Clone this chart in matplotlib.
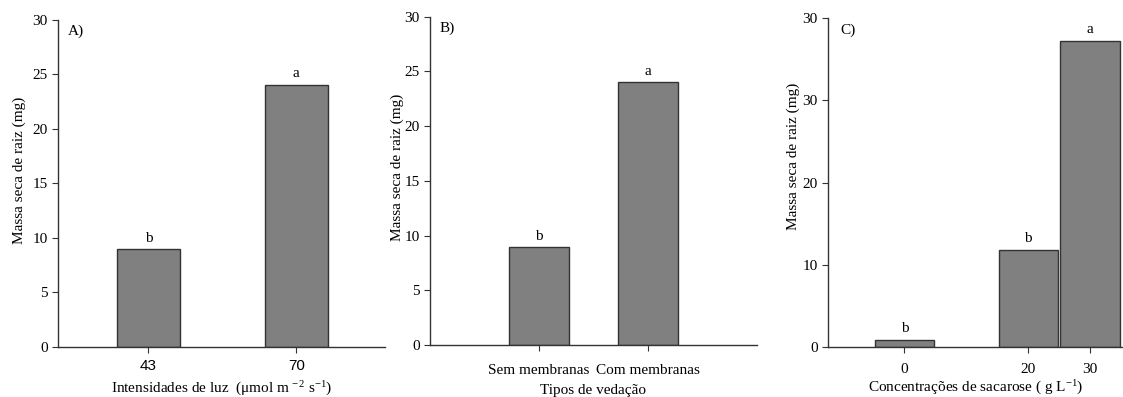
import matplotlib
matplotlib.use('Agg')
import matplotlib.pyplot as plt

plt.rcParams['font.family'] = ['Liberation Serif', 'DejaVu Serif']
plt.rcParams['mathtext.fontset'] = 'custom'
plt.rcParams['mathtext.rm'] = 'Liberation Serif'
plt.rcParams['mathtext.it'] = 'Liberation Serif:italic'
plt.rcParams['font.size'] = 11

# panel A - light intensity
luz_labels = ['43', '70']
luz_values = [8.95, 24.05]
luz_letters = ['b', 'a']

# panel B - sealing type
vedacao_labels = ['Sem membranas', 'Com membranas']
vedacao_values = [8.95, 24.0]
vedacao_letters = ['b', 'a']

# panel C - sucrose concentration
sacarose_x = [0, 20, 30]
sacarose_values = [0.8, 11.8, 37.2]
sacarose_letters = ['b', 'b', 'a']
sacarose_yticks = [0, 10, 20, 30, 40]
sacarose_yticklabels = ['0', '10', '20', '30', '30']

BAR_COLOR = '#808080'
EDGE = '#333333'
YLABEL = 'Massa seca de raiz (mg)'


def style_axes(ax):
    for side in ['top', 'right']:
        ax.spines[side].set_visible(False)
    for side in ['left', 'bottom']:
        ax.spines[side].set_color(EDGE)
        ax.spines[side].set_linewidth(1.0)
    ax.tick_params(direction='out', length=4, width=0.8, color=EDGE, labelsize=11)


def letters_on(ax, xs, vals, letters, pad):
    for x, v, t in zip(xs, vals, letters):
        ax.text(x, v + pad, t, ha='center', va='bottom', fontsize=11)


fig = plt.figure(figsize=(11.23, 3.97), dpi=100)

# A
ax1 = fig.add_axes([0.0519, 0.1267, 0.2910, 0.8230])
pos = range(len(luz_values))
ax1.bar(pos, luz_values, width=0.43, color=BAR_COLOR, edgecolor=EDGE, linewidth=1)
letters_on(ax1, pos, luz_values, luz_letters, 0.4)
ax1.set_xlim(-0.61, 1.6)
ax1.set_ylim(0, 30)
ax1.set_yticks([0, 5, 10, 15, 20, 25, 30])
ax1.set_xticks(list(pos))
ax1.set_xticklabels(luz_labels, family='Liberation Sans', fontsize=10.5)
style_axes(ax1)
ax1.tick_params(axis='x', pad=5)
ax1.set_ylabel(YLABEL, labelpad=5, y=0.54)
ax1.set_xlabel(r'Intensidades de luz  ($\mathrm{\mu}$mol m$^{\,-2}$ s$^{-1}$)', labelpad=5)
ax1.text(0.03, 0.985, 'A)', transform=ax1.transAxes, ha='left', va='top')

# B
ax2 = fig.add_axes([0.3829, 0.1310, 0.2909, 0.8270])
pos = range(len(vedacao_values))
ax2.bar(pos, vedacao_values, width=0.55, color=BAR_COLOR, edgecolor=EDGE, linewidth=1)
letters_on(ax2, pos, vedacao_values, vedacao_letters, 0.4)
ax2.set_xlim(-1.0, 2.0)
ax2.set_ylim(0, 30)
ax2.set_yticks([0, 5, 10, 15, 20, 25, 30])
ax2.set_xticks(list(pos))
ax2.set_xticklabels(vedacao_labels)
style_axes(ax2)
ax2.tick_params(axis='x', pad=10)
ax2.set_ylabel(YLABEL, labelpad=0, y=0.54)
ax2.set_xlabel('Tipos de vedação', labelpad=5)
ax2.text(0.03, 0.985, 'B)', transform=ax2.transAxes, ha='left', va='top')

# C
ax3 = fig.add_axes([0.7376, 0.1267, 0.2624, 0.8270])
ax3.bar(sacarose_x, sacarose_values, width=9.6, color=BAR_COLOR, edgecolor=EDGE, linewidth=1)
letters_on(ax3, sacarose_x, sacarose_values, sacarose_letters, 0.6)
ax3.set_xlim(-12.3, 35.3)
ax3.set_ylim(0, 40)
ax3.set_yticks(sacarose_yticks)
ax3.set_yticklabels(sacarose_yticklabels)
ax3.set_xticks(sacarose_x)
style_axes(ax3)
ax3.tick_params(axis='x', pad=8)
ax3.set_ylabel(YLABEL, labelpad=2, y=0.58)
ax3.set_xlabel(r'Concentrações de sacarose ( g L$^{-1}$)', labelpad=2)
ax3.text(0.04, 0.985, 'C)', transform=ax3.transAxes, ha='left', va='top')

fig.savefig('out.png', dpi=100)
